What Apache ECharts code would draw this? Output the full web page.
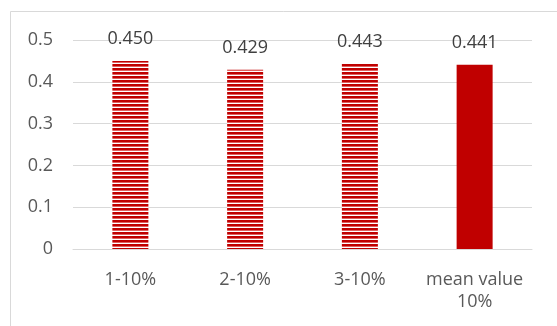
<!DOCTYPE html>
<html>
<head>
<meta charset="utf-8">
<script src="https://cdn.jsdelivr.net/npm/echarts@6/dist/echarts.min.js"></script>
<style>
  html, body { margin: 0; padding: 0; background: #fff; }
  #chart { width: 557px; height: 326px; }
</style>
</head>
<body>
<div id="chart"></div>
<script>
// Values per category
const categories = ['1-10%', '2-10%', '3-10%', 'mean value\n10%'];
const values = [0.450, 0.429, 0.443, 0.441];
const yTicks = [0, 0.1, 0.2, 0.3, 0.4, 0.5];

// Horizontal stripe fill for the individual runs
function stripePattern() {
  const c = document.createElement('canvas');
  c.width = 4; c.height = 4;
  const g = c.getContext('2d');
  g.fillStyle = '#ffffff';
  g.fillRect(0, 0, 4, 4);
  g.fillStyle = '#c00000';
  g.fillRect(0, 0, 4, 2);
  g.fillStyle = '#e06060';
  g.fillRect(0, 2, 4, 1);
  return c;
}
const stripes = { image: stripePattern(), repeat: 'repeat' };

const chart = echarts.init(document.getElementById('chart'), null, { renderer: 'canvas' });
const font = '"Open Sans", Lato, "Liberation Sans", sans-serif';

chart.setOption({
  animation: false,
  backgroundColor: '#ffffff',
  textStyle: { fontFamily: font },
  grid: { left: 73, right: 25, top: 40, bottom: 77 },
  graphic: [
    { type: 'line', shape: { x1: 10.5, y1: 11.5, x2: 10.5, y2: 326 }, style: { stroke: '#d9d9d9', lineWidth: 1 } },
    { type: 'line', shape: { x1: 10.5, y1: 11.5, x2: 557, y2: 11.5 }, style: { stroke: '#d9d9d9', lineWidth: 1 } }
  ],
  xAxis: {
    type: 'category',
    data: categories,
    axisLine: { show: true, lineStyle: { color: '#d9d9d9', width: 1 } },
    axisTick: { show: false },
    axisLabel: { interval: 0, color: '#595959', fontSize: 18, fontFamily: font, margin: 20, lineHeight: 22 }
  },
  yAxis: {
    type: 'value',
    min: yTicks[0],
    max: yTicks[yTicks.length - 1],
    interval: 0.1,
    axisLine: { show: false },
    axisTick: { show: false },
    splitLine: { lineStyle: { color: '#d9d9d9', width: 1 } },
    axisLabel: {
      color: '#595959', fontSize: 18, fontFamily: font, margin: 20,
      formatter: v => (Math.abs(v) < 1e-9 ? '0' : v.toFixed(1))
    }
  },
  series: [{
    type: 'bar',
    barWidth: 36,
    data: values.map((v, i) => ({
      value: v,
      itemStyle: { color: i === values.length - 1 ? '#c00000' : stripes }
    })),
    label: {
      show: true,
      position: 'top',
      distance: 13,
      color: '#404040',
      fontSize: 18,
      fontFamily: font,
      formatter: p => p.value.toFixed(3)
    }
  }]
});
</script>
</body>
</html>
